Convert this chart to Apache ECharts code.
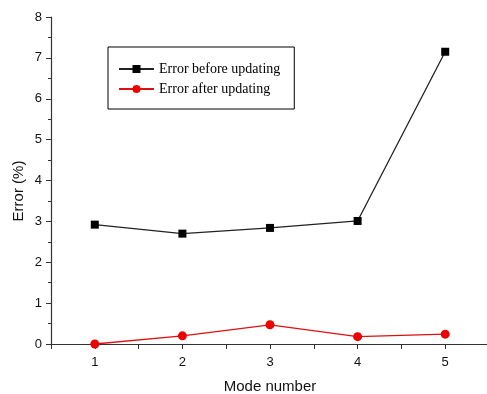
<!DOCTYPE html>
<html><head><meta charset="utf-8">
<script src="https://cdn.jsdelivr.net/npm/echarts@6/dist/echarts.min.js"></script>
<style>html,body{margin:0;padding:0;background:#fff}#c{width:487px;height:394px}</style>
</head><body><div id="c"></div>
<script>
const modes = [1, 2, 3, 4, 5];
const errBefore = [2.92, 2.70, 2.84, 3.01, 7.15];
const errAfter = [0.0, 0.20, 0.47, 0.18, 0.24];
const seriesNames = ['Error before updating', 'Error after updating'];

const chart = echarts.init(document.getElementById('c'));
chart.setOption({
  animation: false,
  backgroundColor: '#fff',
  grid: { left: 51, width: 438, top: 17, bottom: 50, containLabel: false, outerBoundsMode: 'none' },
  legend: {
    left: 108, top: 47, orient: 'vertical',
    borderColor: '#000', borderWidth: 1,
    padding: [15, 14, 13, 10], itemGap: 6,
    itemWidth: 35, itemHeight: 10,
    textStyle: { fontFamily: 'Liberation Serif', fontSize: 14, color: '#000' },
    data: seriesNames
  },
  xAxis: {
    type: 'value', min: 0.5, max: 5.5, interval: 0.5,
    name: 'Mode number', nameLocation: 'middle', nameGap: 35,
    nameTextStyle: { fontFamily: 'Liberation Sans', fontSize: 15, color: '#111' },
    axisLine: { lineStyle: { color: '#333', width: 1.2 } },
    axisTick: { show: true, inside: false, length: 5, lineStyle: { color: '#333' } },
    axisLabel: { fontFamily: 'Liberation Sans', fontSize: 13, color: '#111', margin: 12,
      formatter: v => (Number.isInteger(v) && v >= 1 && v <= 5) ? String(v) : '' },
    splitLine: { show: false }
  },
  yAxis: {
    type: 'value', min: 0, max: 8, interval: 1,
    name: 'Error (%)', nameLocation: 'middle', nameGap: 25, nameRotate: 90, nameMoveOverlap: false,
    nameTextStyle: { fontFamily: 'Liberation Sans', fontSize: 15, color: '#111', padding: [0, 21, 0, 0] },
    axisLine: { show: true, lineStyle: { color: '#333', width: 1.2 } },
    axisTick: { show: true, inside: false, length: 5, lineStyle: { color: '#333' } },
    minorTick: { show: true, splitNumber: 2, length: 3, lineStyle: { color: '#333' } },
    axisLabel: { fontFamily: 'Liberation Sans', fontSize: 13, color: '#111', margin: 9 },
    splitLine: { show: false }
  },
  series: [
    { name: seriesNames[0], type: 'line', data: modes.map((m, i) => [m, errBefore[i]]),
      symbol: 'rect', symbolSize: 8, itemStyle: { color: '#000' },
      lineStyle: { color: '#222', width: 1.3 } },
    { name: seriesNames[1], type: 'line', data: modes.map((m, i) => [m, errAfter[i]]),
      symbol: 'circle', symbolSize: 9, itemStyle: { color: '#ee0000' },
      lineStyle: { color: '#dd1111', width: 1.3 } }
  ]
});
</script></body></html>
